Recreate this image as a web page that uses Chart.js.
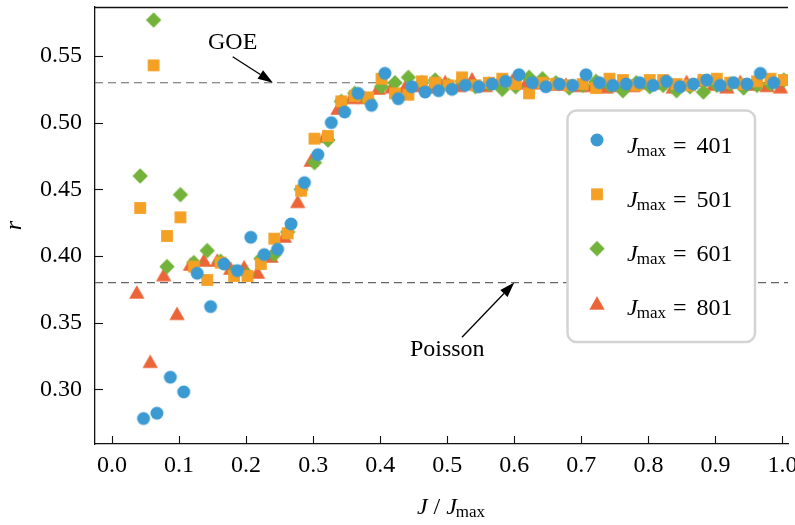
<!DOCTYPE html>
<html>
<head>
<meta charset="utf-8">
<script src="https://cdn.jsdelivr.net/npm/chart.js@4/dist/chart.umd.min.js"></script>
<style>
  html, body { margin: 0; padding: 0; background: #fff; overflow: hidden; }
  #wrap { width: 795px; height: 525px; }
</style>
</head>
<body>
<div id="wrap"><canvas id="rChart" width="795" height="525"></canvas></div>
<script>
// J / Jmax positions and r values, one pair of arrays per Jmax
const jmaxValues = [401, 501, 601, 801];

const x401 = [0.047,0.067,0.087,0.107,0.127,0.147,0.167,0.187,0.207,0.227,0.247,0.267,0.287,0.307,0.327,0.347,0.367,0.387,0.407,0.427,0.447,0.467,0.487,0.507,0.527,0.547,0.567,0.587,0.607,0.627,0.647,0.667,0.687,0.707,0.727,0.747,0.767,0.787,0.807,0.827,0.847,0.867,0.887,0.907,0.927,0.947,0.967,0.987];
const r401 = [0.278,0.282,0.309,0.298,0.387,0.362,0.394,0.389,0.414,0.401,0.405,0.424,0.455,0.476,0.500,0.508,0.522,0.513,0.537,0.518,0.527,0.523,0.524,0.525,0.528,0.527,0.529,0.531,0.536,0.530,0.527,0.529,0.528,0.536,0.530,0.528,0.529,0.530,0.528,0.531,0.527,0.529,0.532,0.528,0.530,0.529,0.537,0.530];

const x501 = [0.042,0.062,0.082,0.102,0.122,0.142,0.162,0.182,0.202,0.222,0.242,0.262,0.282,0.302,0.322,0.342,0.362,0.382,0.402,0.422,0.442,0.462,0.482,0.502,0.522,0.542,0.562,0.582,0.602,0.622,0.642,0.662,0.682,0.702,0.722,0.742,0.762,0.782,0.802,0.822,0.842,0.862,0.882,0.902,0.922,0.942,0.962,0.982,1.002];
const r501 = [0.436,0.543,0.415,0.429,0.392,0.382,0.395,0.385,0.385,0.394,0.413,0.417,0.449,0.488,0.490,0.516,0.520,0.519,0.533,0.522,0.521,0.531,0.530,0.528,0.534,0.528,0.530,0.533,0.529,0.522,0.530,0.529,0.528,0.529,0.526,0.533,0.532,0.528,0.532,0.532,0.529,0.528,0.532,0.533,0.530,0.529,0.531,0.533,0.532];

const x601 = [0.042,0.062,0.082,0.102,0.122,0.142,0.162,0.182,0.202,0.222,0.242,0.262,0.282,0.302,0.322,0.342,0.362,0.382,0.402,0.422,0.442,0.462,0.482,0.502,0.522,0.542,0.562,0.582,0.602,0.622,0.642,0.662,0.682,0.702,0.722,0.742,0.762,0.782,0.802,0.822,0.842,0.862,0.882,0.902,0.922,0.942,0.962,0.982,1.002];
const r601 = [0.460,0.577,0.392,0.446,0.395,0.404,0.396,0.388,0.386,0.398,0.401,0.418,0.450,0.470,0.487,0.516,0.522,0.517,0.527,0.530,0.534,0.530,0.532,0.528,0.531,0.527,0.529,0.525,0.527,0.534,0.533,0.530,0.526,0.528,0.531,0.528,0.524,0.530,0.527,0.528,0.524,0.527,0.523,0.528,0.529,0.526,0.528,0.529,0.532];

const x801 = [0.037,0.057,0.077,0.097,0.117,0.137,0.157,0.177,0.197,0.217,0.237,0.257,0.277,0.297,0.317,0.337,0.357,0.377,0.397,0.417,0.437,0.457,0.477,0.497,0.517,0.537,0.557,0.577,0.597,0.617,0.637,0.657,0.677,0.697,0.717,0.737,0.757,0.777,0.797,0.817,0.837,0.857,0.877,0.897,0.917,0.937,0.957,0.977,0.997];
const r801 = [0.373,0.321,0.386,0.357,0.394,0.397,0.397,0.391,0.392,0.388,0.400,0.415,0.441,0.472,0.490,0.511,0.519,0.519,0.526,0.527,0.527,0.528,0.527,0.531,0.528,0.533,0.528,0.531,0.532,0.530,0.530,0.529,0.529,0.528,0.528,0.527,0.528,0.528,0.530,0.530,0.527,0.531,0.532,0.529,0.527,0.531,0.529,0.528,0.527];

const xTicks = [0.0, 0.1, 0.2, 0.3, 0.4, 0.5, 0.6, 0.7, 0.8, 0.9, 1.0];
const yTicks = [0.30, 0.35, 0.40, 0.45, 0.50, 0.55];

// reference levels
const goeLevel = 0.53;
const poissonLevel = 0.38;

const colors = ['#3C9AD2', '#F4A024', '#73B33B', '#EC6539'];
const shapes = ['circle', 'square', 'diamond', 'triangle'];
const serif = '"Liberation Serif", "DejaVu Serif", serif';

// where x = 0 sits and how many pixels one unit of J/Jmax spans
const xZeroPx = 112;
const xUnitPx = 670.5;

// matplotlib-like markers, centred on their own bounding box
function makeMarker(shape, color) {
    const c = document.createElement('canvas');
    c.width = 20; c.height = 20;
    const g = c.getContext('2d');
    g.fillStyle = color;
    g.beginPath();
    if (shape === 'circle') {
        g.arc(10, 10, 6.5, 0, Math.PI * 2);
    } else if (shape === 'square') {
        g.rect(4.1, 4.1, 11.8, 11.8);
    } else if (shape === 'diamond') {
        g.moveTo(10, 2.3); g.lineTo(17.7, 10); g.lineTo(10, 17.7); g.lineTo(2.3, 10);
    } else {
        g.moveTo(10, 3.3); g.lineTo(17.7, 16.7); g.lineTo(2.3, 16.7);
    }
    g.closePath();
    g.fill();
    return c;
}
const markers = shapes.map((s, i) => makeMarker(s, colors[i]));

function toPoints(xs, ys) {
    return xs.map((x, i) => ({ x: x, y: ys[i] }));
}

const series = [[x401, r401], [x501, r501], [x601, r601], [x801, r801]];

// italic J followed by an upright "max" subscript
function drawJ(ctx, x, baseline, size, subSize) {
    ctx.font = 'italic ' + size + 'px ' + serif;
    ctx.fillText('J', x, baseline);
    let w = ctx.measureText('J').width;
    ctx.font = subSize + 'px ' + serif;
    ctx.fillText('max', x + w - 1, baseline + 3);
    return w - 1 + ctx.measureText('max').width;
}

function arrow(ctx, x0, y0, x1, y1) {
    const dx = x1 - x0, dy = y1 - y0;
    const len = Math.sqrt(dx * dx + dy * dy);
    const ux = dx / len, uy = dy / len;
    const hl = 15, hw = 5;
    ctx.beginPath();
    ctx.moveTo(x0, y0);
    ctx.lineTo(x1 - ux * hl, y1 - uy * hl);
    ctx.stroke();
    ctx.beginPath();
    ctx.moveTo(x1, y1);
    ctx.lineTo(x1 - ux * hl - uy * hw, y1 - uy * hl + ux * hw);
    ctx.lineTo(x1 - ux * hl + uy * hw, y1 - uy * hl - ux * hw);
    ctx.closePath();
    ctx.fill();
}

const overlay = {
    id: 'overlay',
    beforeDatasetsDraw(chart) {
        const { ctx, chartArea: a, scales: { y } } = chart;
        ctx.save();
        ctx.strokeStyle = '#666';
        ctx.lineWidth = 1.1;
        ctx.setLineDash([8, 5]);
        [goeLevel, poissonLevel].forEach(v => {
            const py = y.getPixelForValue(v);
            ctx.beginPath();
            ctx.moveTo(a.left, py);
            ctx.lineTo(a.right, py);
            ctx.stroke();
        });
        ctx.restore();
    },
    afterDraw(chart) {
        const { ctx, chartArea: a, scales: { x, y } } = chart;
        ctx.save();

        // top spine and inward ticks
        ctx.strokeStyle = '#111';
        ctx.lineWidth = 1.3;
        ctx.beginPath();
        ctx.moveTo(a.left, a.top + 0.5);
        ctx.lineTo(a.right, a.top + 0.5);
        ctx.stroke();
        ctx.lineWidth = 1.1;
        xTicks.forEach(v => {
            const px = Math.round(x.getPixelForValue(v)) + 0.5;
            ctx.beginPath();
            ctx.moveTo(px, a.bottom);
            ctx.lineTo(px, a.bottom - 8);
            ctx.stroke();
        });
        yTicks.forEach(v => {
            const py = Math.round(y.getPixelForValue(v)) + 0.5;
            ctx.beginPath();
            ctx.moveTo(a.left, py);
            ctx.lineTo(a.left + 8, py);
            ctx.stroke();
        });

        // annotations
        ctx.fillStyle = '#000';
        ctx.strokeStyle = '#000';
        ctx.lineWidth = 1.3;
        ctx.font = '24px ' + serif;
        ctx.textAlign = 'center';
        ctx.textBaseline = 'middle';
        ctx.fillText('GOE', x.getPixelForValue(0.18), y.getPixelForValue(0.56));
        arrow(ctx, x.getPixelForValue(0.18), y.getPixelForValue(0.5495),
              x.getPixelForValue(0.24), y.getPixelForValue(goeLevel));
        ctx.fillText('Poisson', x.getPixelForValue(0.5), y.getPixelForValue(0.33));
        arrow(ctx, x.getPixelForValue(0.522), y.getPixelForValue(0.339),
              x.getPixelForValue(0.6), y.getPixelForValue(poissonLevel));

        // legend
        const bx = 567.5, by = 110.5, bw = 187.5, bh = 231.5;
        ctx.beginPath();
        ctx.roundRect(bx, by, bw, bh, 9);
        ctx.fillStyle = '#fff';
        ctx.fill();
        ctx.strokeStyle = '#d4d4d4';
        ctx.lineWidth = 2.5;
        ctx.stroke();
        ctx.fillStyle = '#000';
        ctx.textAlign = 'left';
        ctx.textBaseline = 'alphabetic';
        jmaxValues.forEach((jm, i) => {
            const my = 140 + i * 54.3;
            const m = markers[i];
            ctx.drawImage(m, 597 - m.width / 2, my - m.height / 2);
            const tx = 627, base = my + 12.5;
            const w = drawJ(ctx, tx, base, 24, 17);
            ctx.font = '24px ' + serif;
            ctx.fillText('=', tx + w + 7, base);
            const we = ctx.measureText('=').width;
            ctx.fillText(String(jm), tx + w + 7 + we + 10, base);
        });

        // axis titles
        ctx.font = 'italic 24px ' + serif;
        ctx.save();
        ctx.translate(21, (a.top + a.bottom) / 2);
        ctx.rotate(-Math.PI / 2);
        ctx.textAlign = 'center';
        ctx.textBaseline = 'alphabetic';
        ctx.fillText('r', 0, 0);
        ctx.restore();

        ctx.textAlign = 'left';
        const base = 514;
        ctx.font = 'italic 24px ' + serif;
        const wJ = ctx.measureText('J').width;
        ctx.font = '24px ' + serif;
        const wS = ctx.measureText(' / ').width;
        ctx.font = '17px ' + serif;
        const wM = ctx.measureText('max').width;
        const total = wJ + wS + wJ - 1 + wM;
        let cx = 451 - total / 2;
        ctx.font = 'italic 24px ' + serif;
        ctx.fillText('J', cx, base);
        cx += wJ;
        ctx.font = '24px ' + serif;
        ctx.fillText(' / ', cx, base);
        cx += wS;
        drawJ(ctx, cx, base, 24, 17);

        ctx.restore();
    }
};

const ctx = document.getElementById('rChart').getContext('2d');
const rChart = new Chart(ctx, {
    type: 'scatter',
    data: {
        datasets: series.map((s, i) => ({
            label: 'Jmax = ' + jmaxValues[i],
            data: toPoints(s[0], s[1]),
            pointStyle: markers[i],
            pointRadius: 7,
            pointHoverRadius: 7,
            backgroundColor: colors[i],
            borderWidth: 0,
            showLine: false
        }))
    },
    options: {
        responsive: false,
        animation: false,
        events: [],
        layout: { padding: { top: 7, right: 0, bottom: 0, left: 0 } },
        plugins: {
            legend: { display: false },
            tooltip: { enabled: false }
        },
        scales: {
            x: {
                type: 'linear',
                min: -0.0254,
                max: 1.0194,
                afterBuildTicks: s => { s.ticks = xTicks.map(v => ({ value: v })); },
                afterFit: s => { s.height = 81; s.paddingLeft = 0; s.paddingRight = 0; },
                grid: { display: false, drawTicks: false },
                border: { display: true, color: '#111', width: 1.3 },
                ticks: {
                    color: '#000',
                    font: { family: serif, size: 24 },
                    padding: 7,
                    maxRotation: 0,
                    autoSkip: false,
                    callback: v => v.toFixed(1)
                }
            },
            y: {
                type: 'linear',
                min: 0.2589,
                max: 0.5868,
                afterBuildTicks: s => { s.ticks = yTicks.map(v => ({ value: v })); },
                afterFit: s => { s.width = 95; s.paddingTop = 0; s.paddingBottom = 0; },
                grid: { display: false, drawTicks: false },
                border: { display: true, color: '#111', width: 1.3 },
                ticks: {
                    color: '#000',
                    font: { family: serif, size: 24 },
                    padding: 13,
                    autoSkip: false,
                    callback: v => v.toFixed(2)
                }
            }
        }
    },
    plugins: [overlay]
});

// fit the x range to the plot area actually laid out, so 0 and 1 land where they should
const area = rChart.chartArea;
rChart.options.scales.x.min = -(xZeroPx - area.left) / xUnitPx;
rChart.options.scales.x.max = (area.right - xZeroPx) / xUnitPx;
rChart.update();
</script>
</body>
</html>
